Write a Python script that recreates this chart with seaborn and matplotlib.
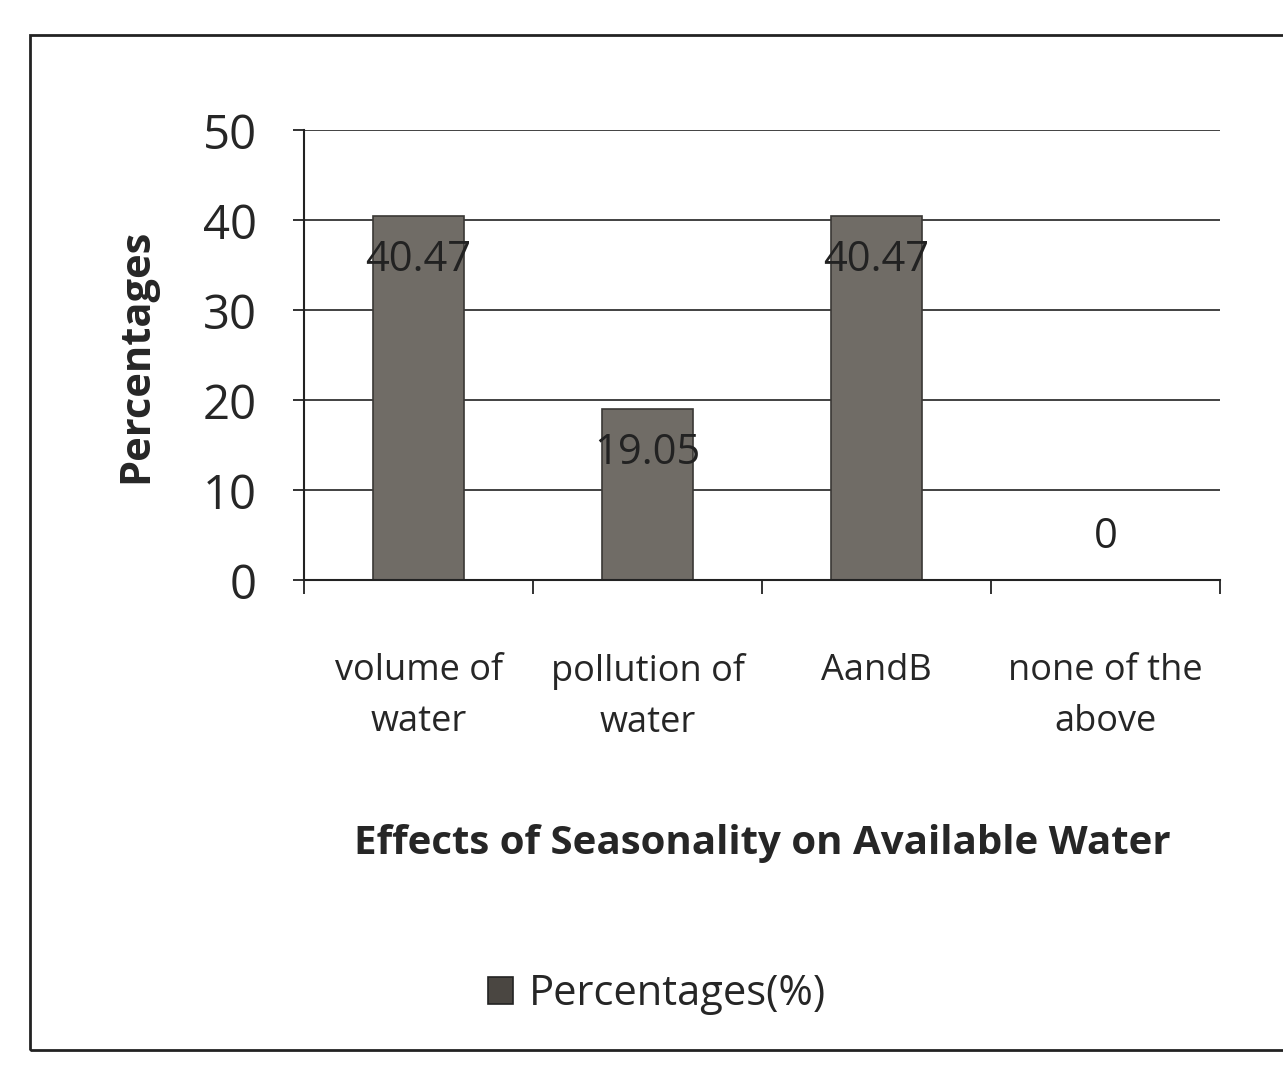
import matplotlib
matplotlib.use('Agg')
import matplotlib.pyplot as plt
import numpy as np
import pandas as pd
import seaborn as sns
from matplotlib.patches import Rectangle

CATEGORIES = ['volume of\nwater', 'pollution of\nwater', 'AandB', 'none of the\nabove']
PERCENTAGES = [40.47, 19.05, 40.47, 0]
Y_TICKS = [0, 10, 20, 30, 40, 50]
SERIES_NAME = 'Percentages(%)'

BAR_COLOR = '#716c65'

sns.set_theme(style='white')
plt.rcParams['font.family'] = ['Open Sans', 'DejaVu Sans']

df = pd.DataFrame({'category': CATEGORIES, 'value': PERCENTAGES, 'series': SERIES_NAME})

fig = plt.figure(figsize=(12.83, 10.69), dpi=100)
ax = fig.add_axes([0.237, 0.457, 0.714, 0.421])

sns.barplot(data=df, x='category', y='value', hue='series', palette=[BAR_COLOR],
            width=0.4, edgecolor='#3a3835', linewidth=1.2, ax=ax, legend=False)

ax.set_ylim(0, 50)
ax.set_yticks(Y_TICKS)
ax.yaxis.grid(True, color='#333333', linewidth=1.3)
ax.set_axisbelow(True)
ax.tick_params(axis='y', labelsize=34, length=8, width=1.3, direction='out', left=True, color='#222222', pad=26)
ax.tick_params(axis='x', labelsize=26, length=0, pad=52)
for lbl in ax.get_xticklabels():
    lbl.set_linespacing(1.55)

# tick marks between categories like Excel
ax.set_xticks(np.arange(-0.5, len(CATEGORIES)), minor=True)
ax.tick_params(axis='x', which='minor', length=10, width=1.3, color='#222222', bottom=True, direction='out')

for side in ['top', 'right']:
    ax.spines[side].set_visible(False)
for side in ['left', 'bottom']:
    ax.spines[side].set_color('#222222')
    ax.spines[side].set_linewidth(1.5)

ax.set_ylabel('Percentages', fontsize=30, fontweight='bold', labelpad=33)
ax.set_xlabel('Effects of Seasonality on Available Water', fontsize=29, fontweight='bold', labelpad=60)

for i, v in enumerate(PERCENTAGES):
    if v > 5:
        ax.text(i, v - 2.5, f'{v:g}', ha='center', va='top', fontsize=30, color='#222222')
    else:
        ax.text(i, v + 2.5, f'{v:g}', ha='center', va='bottom', fontsize=30, color='#222222')

handle = Rectangle((0, 0), 1, 1, facecolor='#4a4641', edgecolor='#222222', linewidth=1.2)
fig.legend([handle], [SERIES_NAME], loc='center', bbox_to_anchor=(0.512, 0.07), frameon=False,
           fontsize=30, handlelength=0.6, handleheight=0.6, handletextpad=0.4)

fig.patches.append(Rectangle((0.023, 0.018), 1.0, 0.949, transform=fig.transFigure,
                             fill=False, edgecolor='#222222', linewidth=2.0))

fig.savefig('out.png', dpi=100)
